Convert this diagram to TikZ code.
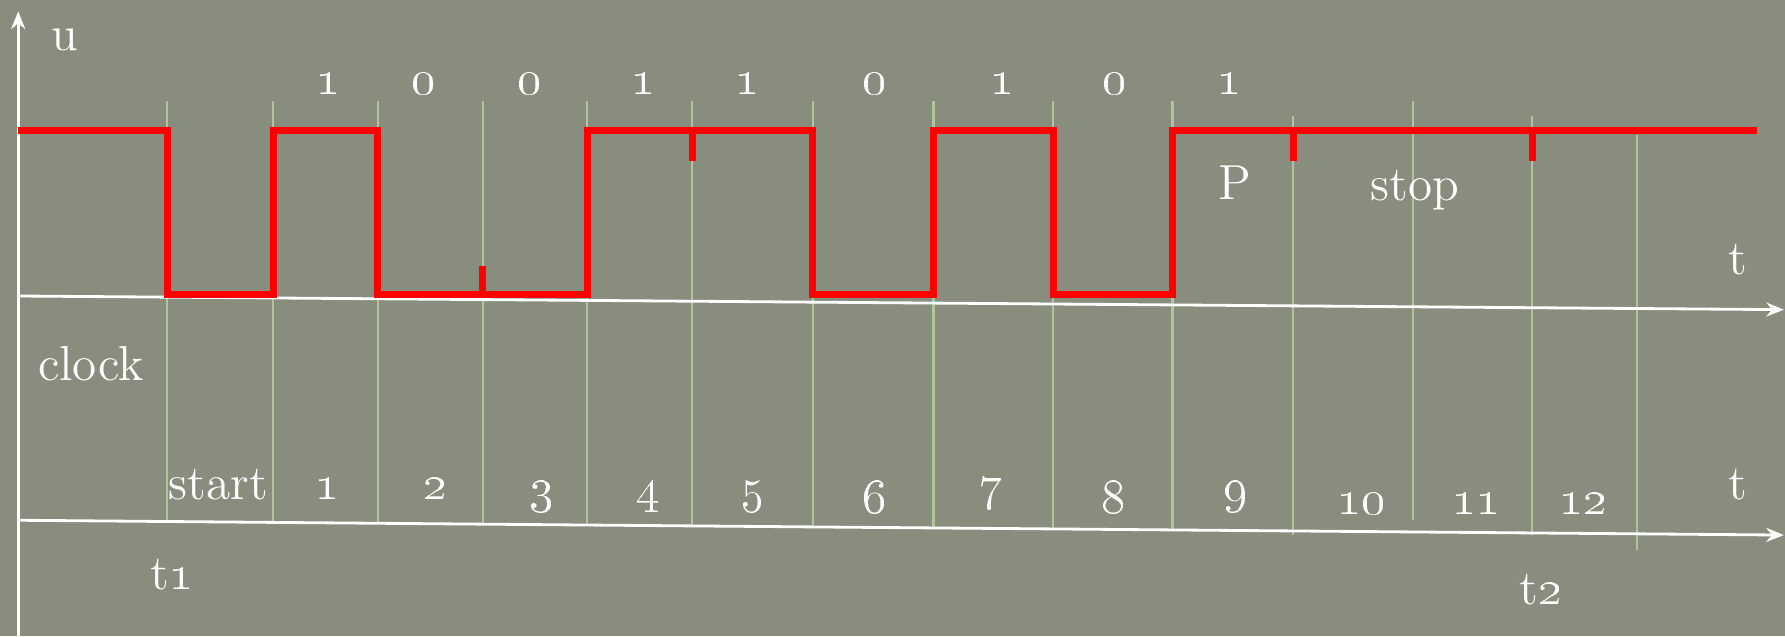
\documentclass[tikz,border=0pt]{standalone}
\usetikzlibrary{arrows.meta}
\definecolor{board}{RGB}{136,141,125}
\definecolor{gridc}{RGB}{178,196,156}

\begin{document}
\begin{tikzpicture}[x=0.011384cm, y=-0.011384cm, >={Stealth[length=5pt,width=4pt]}, line join=miter,
    lbl/.style={text=white, font=\fontsize{14}{16}\selectfont, inner sep=0pt, anchor=base},
    axis/.style={white, line width=0.8pt},
    sig/.style={red, line width=2pt}]
    \fill[board] (0,0) rectangle (1568,559);
    \useasboundingbox (0,0) rectangle (1568,559);

    \coordinate (O) at (16,559);
    \coordinate (U) at (16,10);
    \coordinate (A1) at (16,260);
    \coordinate (A2) at (1567,272);
    \coordinate (B1) at (16,457);
    \coordinate (B2) at (1567,470);

    % clock grid
    \draw[gridc, line width=0.6pt]
        (147,89) -- (147,458) (240,89) -- (240,459) (332,89) -- (332,460)
        (424,89) -- (424,460) (516,89) -- (516,461) (608,89) -- (608,462)
        (714,89) -- (714,463) (820,89) -- (820,464) (925,89) -- (925,465)
        (1030,89) -- (1030,466) (1136,102) -- (1136,470) (1241,89) -- (1241,457)
        (1346,102) -- (1346,470) (1438,119) -- (1438,483);

    % axes
    \draw[axis, ->] (O) -- (U);
    \draw[axis, ->] (A1) -- (A2);
    \draw[axis, ->] (B1) -- (B2);

    % signal
    \draw[sig] (16,115) -- (147,115) -- (147,259) -- (240,259) -- (240,115) -- (332,115)
        -- (332,259) -- (516,259) -- (516,115) -- (714,115) -- (714,259) -- (820,259)
        -- (820,115) -- (925,115) -- (925,259) -- (1030,259) -- (1030,115) -- (1543,115);
    \draw[sig] (424,259) -- (424,234);
    \draw[sig] (608,115) -- (608,141);
    \draw[sig] (1136,115) -- (1136,141);
    \draw[sig] (1346,115) -- (1346,141);

    \node[lbl] (u) at (57,44) {u};
    \node[lbl] (ta) at (1527,241) {t};
    \node[lbl] (tb) at (1527,439) {t};
    \node[lbl] (clk) at (80,334) {clock};
    \node[lbl] (P) at (1085,175) {P};
    \node[lbl] (stop) at (1243,176) {stop};
    \node[lbl] (t1) at (151,518) {t\oldstylenums{1}};
    \node[lbl] (t2) at (1354,531) {t\oldstylenums{2}};

    % bits
    \node[lbl] (b1) at (289,83) {\oldstylenums{1}};
    \node[lbl] (b2) at (372,83) {\oldstylenums{0}};
    \node[lbl] (b3) at (465,83) {\oldstylenums{0}};
    \node[lbl] (b4) at (565,83) {\oldstylenums{1}};
    \node[lbl] (b5) at (657,83) {\oldstylenums{1}};
    \node[lbl] (b6) at (768,83) {\oldstylenums{0}};
    \node[lbl] (b7) at (881,83) {\oldstylenums{1}};
    \node[lbl] (b8) at (979,83) {\oldstylenums{0}};
    \node[lbl] (b9) at (1080,83) {\oldstylenums{1}};

    % clock periods
    \node[lbl] (c0) at (192,439) {start};
    \node[lbl] (c1) at (288,439) {\oldstylenums{1}};
    \node[lbl] (c2) at (383,439) {\oldstylenums{2}};
    \node[lbl] (c3) at (476,441) {\oldstylenums{3}};
    \node[lbl] (c4) at (570,441) {\oldstylenums{4}};
    \node[lbl] (c5) at (661,441) {\oldstylenums{5}};
    \node[lbl] (c6) at (768,451) {\oldstylenums{6}};
    \node[lbl] (c7) at (870,439) {\oldstylenums{7}};
    \node[lbl] (c8) at (978,451) {\oldstylenums{8}};
    \node[lbl] (c9) at (1085,441) {\oldstylenums{9}};
    \node[lbl] (c10) at (1196,452) {\oldstylenums{10}};
    \node[lbl] (c11) at (1297,452) {\oldstylenums{11}};
    \node[lbl] (c12) at (1391,452) {\oldstylenums{12}};
\end{tikzpicture}
\end{document}
